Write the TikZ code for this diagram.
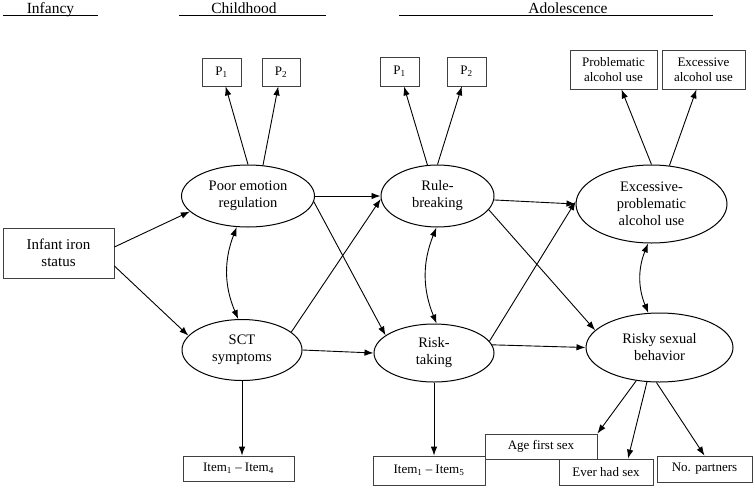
\documentclass[tikz,border=0pt]{standalone}
\usepackage{fontspec}
\setmainfont{Liberation Serif}
\usetikzlibrary{shapes.geometric,arrows.meta}
\begin{document}
\begin{tikzpicture}[x=1pt,y=-1pt,
	latent/.style={ellipse,draw,line width=1pt,inner sep=0pt,align=center,
		font=\fontsize{14.5}{17}\selectfont},
	obs/.style={rectangle,draw=black!75,line width=0.8pt,fill=white,inner sep=0pt,
		align=center,font=\fontsize{13}{15}\selectfont},
	path/.style={line width=0.9pt,-{Latex[length=9pt,width=6.5pt]}},
	cov/.style={line width=0.9pt,{Latex[length=9pt,width=6.5pt]}-{Latex[length=9pt,width=6.5pt]}},
	head/.style={anchor=base,font=\fontsize{15.5}{18}\selectfont}]
\useasboundingbox (0,0) rectangle (755,488);
\node[head] (hinf) at (50.5,13) {Infancy};
\node[head] (hchild) at (244,13) {Childhood};
\node[head] (hadol) at (568,13) {Adolescence};
\draw[line width=0.8pt] (3,15) -- (98,15) (179,15) -- (326,15) (399,15) -- (713,15);
\node[obs,minimum width=111,minimum height=50,font=\fontsize{15}{17}\selectfont] (iron) at (58.5,253) {Infant iron\\status};
\node[latent,minimum width=133,minimum height=62] (poor) at (248,196) {Poor emotion\\regulation};
\node[latent,minimum width=120,minimum height=61] (sct) at (242,350) {SCT\\symptoms};
\node[latent,minimum width=113,minimum height=62] (rule) at (437.5,196) {Rule-\\breaking};
\node[latent,minimum width=120,minimum height=58] (risk) at (434,353) {Risk-\\taking};
\node[latent,minimum width=151,minimum height=78] (excess) at (651.5,204) {Excessive-\\problematic\\alcohol use};
\node[latent,minimum width=147,minimum height=69] (risky) at (659.5,347.5) {Risky sexual\\behavior};
\node[obs,minimum width=39,minimum height=28] (pa1) at (221.5,72) {P\textsubscript{1}};
\node[obs,minimum width=38,minimum height=28] (pa2) at (281,72) {P\textsubscript{2}};
\node[obs,minimum width=39,minimum height=29] (pb1) at (399.5,71.5) {P\textsubscript{1}};
\node[obs,minimum width=39,minimum height=29] (pb2) at (466.5,71.5) {P\textsubscript{2}};
\node[obs,minimum width=87,minimum height=39] (prob) at (613.5,69.5) {Problematic\\alcohol use};
\node[obs,minimum width=83,minimum height=39] (exc) at (703.5,69.5) {Excessive\\alcohol use};
\node[obs,minimum width=111,minimum height=25] (item4) at (238.5,468.5) {Item\textsubscript{1} -- Item\textsubscript{4}};
\node[obs,minimum width=112,minimum height=29] (item5) at (429,470.5) {Item\textsubscript{1} -- Item\textsubscript{5}};
\node[obs,minimum width=112,minimum height=25] (agefirst) at (541,446.5) {Age first sex};
\node[obs,minimum width=94,minimum height=26] (ever) at (606,472) {Ever had sex};
\node[obs,minimum width=95,minimum height=26] (partners) at (704.5,469) {No. partners};
\draw[path] ([yshift=6pt]iron.east) -- (poor.195);
\draw[path] ([yshift=-13pt]iron.east) -- (sct.165);
\draw[cov] (poor.250) to[bend right=22] (sct.97);
\draw[path] (poor.90) -- (pa1);
\draw[path] (poor.64) -- (pa2);
\draw[path] (poor.east) -- (rule.west);
\draw[path] (poor.-5) -- (risk.160);
\draw[path] (sct.20) -- (rule.183);
\draw[path] (sct.east) -- (risk.west);
\draw[path] (sct.south) -- (sct.south |- item4.north);
\draw[cov] (rule.268) to[bend right=22] (risk.85);
\draw[path] (rule.108) -- (pb1);
\draw[path] (rule.90) -- (pb2);
\draw[path] (rule.-4) -- (excess.west);
\draw[path] (rule.-15) -- (risky.165);
\draw[path] (risk.12) -- (excess.178);
\draw[path] (risk.8) -- (risky.west);
\draw[path] (risk.south) -- (risk.south |- item5.north);
\draw[path] (excess.90) -- (prob);
\draw[path] (excess.65) -- (exc);
\draw[cov] (excess.265) to[bend right=22] (risky.108);
\draw[path] (risky.235) -- (agefirst.north east);
\draw[path] (risky.250) -- ([xshift=22pt]ever.north);
\draw[path] (risky.265) -- (partners.north);
\end{tikzpicture}
\end{document}
